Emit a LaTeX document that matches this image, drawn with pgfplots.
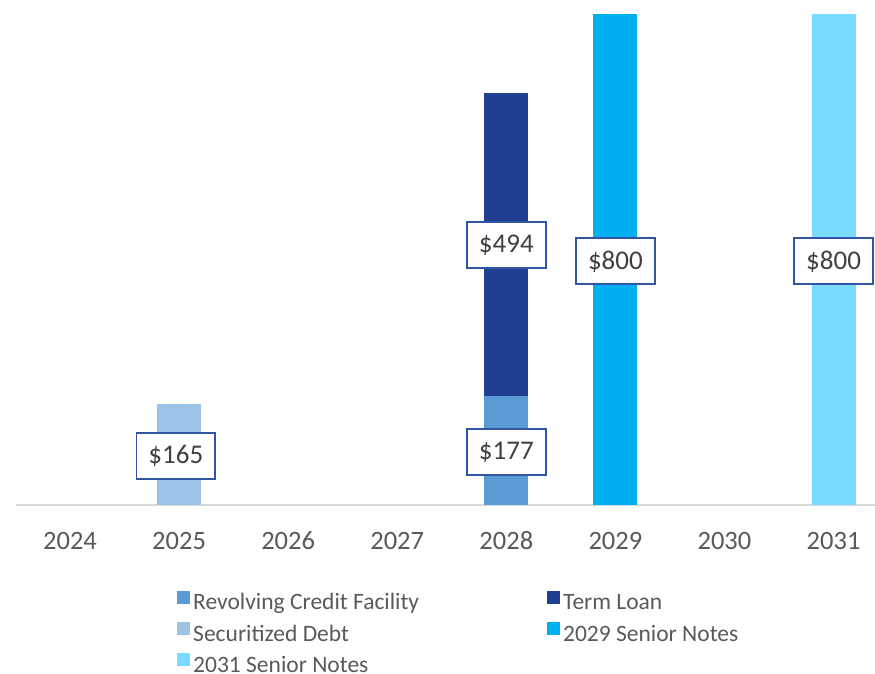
\documentclass[border=0pt]{standalone}
\usepackage{fontspec}
\setmainfont{Carlito}
\usepackage{pgfplots}
\pgfplotsset{compat=1.18}
\definecolor{revc}{HTML}{5B9BD5}
\definecolor{termc}{HTML}{203F93}
\definecolor{secc}{HTML}{9DC3E6}
\definecolor{sn29}{HTML}{00B0F0}
\definecolor{sn31}{HTML}{78DBFF}
\definecolor{boxc}{HTML}{2F55A4}
\definecolor{txtc}{HTML}{595959}
\definecolor{lblc}{HTML}{404040}
\definecolor{axc}{HTML}{D9D9D9}
\begin{document}
\begin{tikzpicture}[x=1bp,y=1bp]
\begin{axis}[
  at={(16bp,169bp)}, anchor=south west,
  scale only axis, width=859bp, height=505bp,
  xmin=-0.495, xmax=7.38, ymin=0, ymax=822.8,
  ybar stacked, bar width=44bp,
  axis x line*=bottom, axis y line=none,
  x axis line style={draw=axc, line width=2bp, -},
  xtick={0,1,2,3,4,5,6,7},
  xticklabels={2024,2025,2026,2027,2028,2029,2030,2031},
  major tick length=0pt,
  xticklabel style={font=\fontsize{26.5bp}{31bp}\selectfont, text=txtc,
    anchor=north, text height=18bp, text depth=0bp, yshift=-23bp},
  legend columns=2,
  legend cell align=left,
  legend style={draw=none, fill=none, at={(0.184,-0.165)}, anchor=north west,
    font=\fontsize{23.5bp}{28bp}\selectfont, text=txtc,
    row sep=8.5bp,
    /tikz/every odd column/.append style={column sep=1bp},
    /tikz/every even column/.append style={column sep=126bp}},
  legend image code/.code={\fill[#1] (0bp,-1bp) rectangle (13bp,12bp);},
  every axis plot/.append style={draw=none},
  clip=false,
]
\addplot[fill=revc] coordinates {(0,0) (1,0) (2,0) (3,0) (4,177) (5,0) (6,0) (7,0)};
\addlegendentry{Revolving Credit Facility}
\addplot[fill=termc] coordinates {(0,0) (1,0) (2,0) (3,0) (4,494) (5,0) (6,0) (7,0)};
\addlegendentry{Term Loan}
\addplot[fill=secc] coordinates {(0,0) (1,165) (2,0) (3,0) (4,0) (5,0) (6,0) (7,0)};
\addlegendentry{Securitized Debt}
\addplot[fill=sn29] coordinates {(0,0) (1,0) (2,0) (3,0) (4,0) (5,800) (6,0) (7,0)};
\addlegendentry{2029 Senior Notes}
\addplot[fill=sn31] coordinates {(0,0) (1,0) (2,0) (3,0) (4,0) (5,0) (6,0) (7,800)};
\addlegendentry{2031 Senior Notes}
\coordinate (l1) at (axis cs:0.97,80);
\coordinate (l2) at (axis cs:4,86);
\coordinate (l3) at (axis cs:4,423);
\coordinate (l4) at (axis cs:5,397);
\coordinate (l5) at (axis cs:7,397);
\end{axis}
\tikzset{lbl/.style={draw=boxc, line width=1.8bp, fill=white, text=lblc,
  font=\fontsize{27bp}{31bp}\selectfont, inner xsep=12bp, minimum height=46bp}}
\node[lbl] at (l1) {\$165};
\node[lbl] at (l2) {\$177};
\node[lbl] at (l3) {\$494};
\node[lbl] at (l4) {\$800};
\node[lbl] at (l5) {\$800};
\pgfresetboundingbox
\useasboundingbox (0,0) rectangle (875bp,674bp);
\end{tikzpicture}
\end{document}
